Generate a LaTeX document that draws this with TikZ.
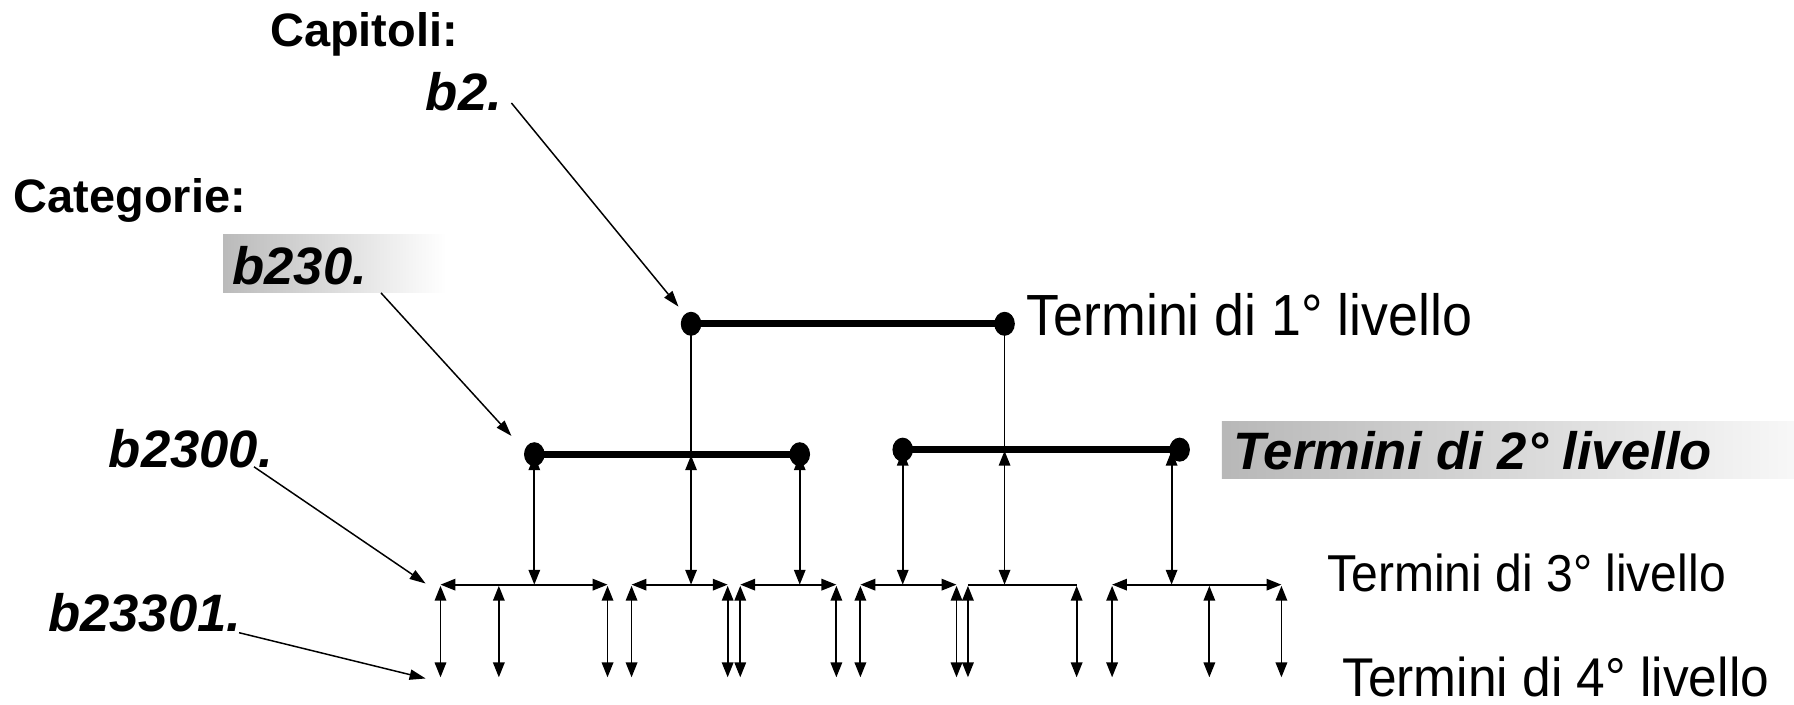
\documentclass[tikz,border=0pt]{standalone}
\usepackage{fontspec}
\setmainfont{Liberation Sans}
\usetikzlibrary{arrows.meta,shapes.geometric}
\begin{document}
\begin{tikzpicture}[x=1pt,y=-1pt,
  dot/.style={ellipse,fill=black,inner sep=0pt,minimum width=18pt,minimum height=21pt},
  barline/.style={line width=6pt},
  thinline/.style={line width=1.6pt},
  dbl/.style={thinline,{Triangle[length=13pt,width=10pt]}-{Triangle[length=13pt,width=10pt]}},
  ptr/.style={line width=1.3pt,-{Triangle[length=14pt,width=9pt]}},
  lab/.style={anchor=base west,inner sep=0pt},
  bolda/.style={lab,font=\fontsize{41}{45}\selectfont\bfseries},
  code/.style={lab,font=\fontsize{46}{50}\selectfont\bfseries\itshape},
  term/.style={lab,font=\fontsize{#1}{#1}\selectfont}
]
\useasboundingbox (0,0) rectangle (1568,616);

% gradient boxes
\shade[left color=black!27, right color=white] (195,205) rectangle (390,256);
\shade[left color=black!28, right color=black!3] (1068,368) rectangle (1568,418);

% labels
\node[bolda] (capitoli) at (236,41) {Capitoli:};
\node[code] (b2) at (372,97) {b2.};
\node[bolda] (categorie) at (12,186) {Categorie:};
\node[code] (b230) at (203,249) {b230.};
\node[code] (b2300) at (95,409) {b2300.};
\node[code] (b23301) at (42,552) {b23301.};
\node[term=47] (t1) at (897,293) {\scalebox{1}[1.08]{Termini di 1° livello}};
\node[code] (t2) at (1078,410) {Termini di 2° livello};
\node[term=42] (t3) at (1160,517) {\scalebox{1}[1.08]{Termini di 3° livello}};
\node[term=45,text depth=0pt] (t4) at (1173,609) {\scalebox{1}[1.06]{Termini di 4° livello}};

% dots
\node[dot] (d1a) at (604,283) {};
\node[dot] (d1b) at (878,283) {};
\node[dot] (d2a) at (467,397) {};
\node[dot] (d2b) at (699,397) {};
\node[dot] (d2c) at (789,393) {};
\node[dot] (d2d) at (1031,393) {};

% bars
\draw[barline] (d1a.center) -- (d1b.center);
\draw[barline] (d2a.center) -- (d2b.center);
\draw[barline] (d2c.center) -- (d2d.center);

% level 1 -> level 2
\coordinate (m2a) at (604,397);
\coordinate (m2b) at (878,393);
\draw[thinline] (d1a.center) -- (m2a);
\draw[thinline] (d1b.center) -- (m2b);

% level 2 -> level 3
\foreach \x/\y [count=\i] in {467/398,604/398,699/398,789/394,878/394,1024/394}{
  \coordinate (u\i) at (\x,\y);
  \coordinate (v\i) at (\x,511);
  \draw[dbl] (u\i) -- (v\i);
}

% level 3 horizontals
\coordinate (g1a) at (385,511); \coordinate (g1b) at (531,511);
\coordinate (g2a) at (552,511); \coordinate (g2b) at (636,511);
\coordinate (g3a) at (647,511); \coordinate (g3b) at (731,511);
\coordinate (g4a) at (752,511); \coordinate (g4b) at (836,511);
\coordinate (g5a) at (846,511); \coordinate (g5b) at (941,511);
\coordinate (g6a) at (972,511); \coordinate (g6b) at (1120,511);
\draw[dbl] (g1a) -- (g1b);
\draw[dbl] (g2a) -- (g2b);
\draw[dbl] (g3a) -- (g3b);
\draw[dbl] (g4a) -- (g4b);
\draw[thinline] (g5a) -- (g5b);
\draw[dbl] (g6a) -- (g6b);

% level 3 -> level 4
\foreach \x [count=\i] in {385,436,531,552,636,647,731,752,836,846,941,972,1057,1120}{
  \coordinate (s\i) at (\x,512);
  \coordinate (e\i) at (\x,592);
  \draw[dbl] (s\i) -- (e\i);
}

% pointers
\coordinate (p1s) at (447,90);  \coordinate (p1e) at (593,268);
\coordinate (p2s) at (333,256); \coordinate (p2e) at (447,381);
\coordinate (p3s) at (222,408); \coordinate (p3e) at (372,510);
\coordinate (p4s) at (209,553); \coordinate (p4e) at (372,593);
\draw[ptr] (p1s) -- (p1e);
\draw[ptr] (p2s) -- (p2e);
\draw[ptr] (p3s) -- (p3e);
\draw[ptr] (p4s) -- (p4e);
\end{tikzpicture}
\end{document}
